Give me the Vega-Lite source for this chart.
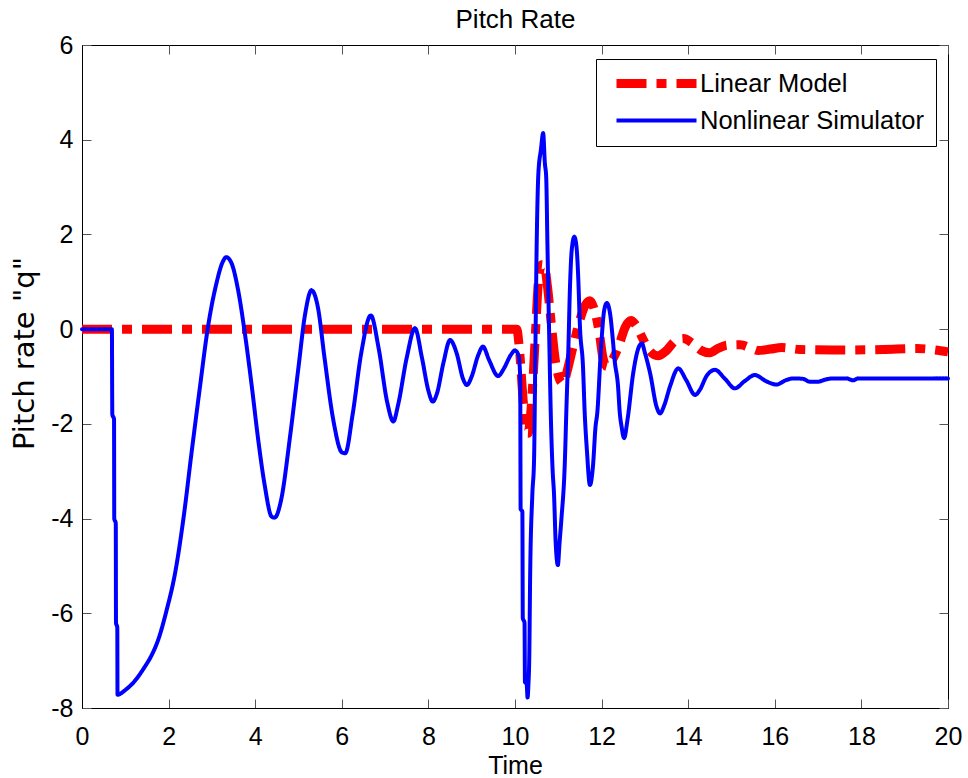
{
  "$schema": "https://vega.github.io/schema/vega-lite/v6.json",
  "width": 866,
  "height": 663,
  "autosize": {"type": "none"},
  "padding": {"left": 82, "top": 45, "right": 20, "bottom": 70},
  "background": "white",
  "config": {
    "view": {"stroke": "black", "strokeWidth": 1},
    "font": "Liberation Sans",
    "axis": {"grid": false}
  },
  "datasets": {
    "lin": [
      {"t":0,"q":0},{"t":10.04,"q":0},{"t":10.1,"q":-0.4},{"t":10.18,"q":-1.4},{"t":10.25,"q":-2.1},{"t":10.3,"q":-2.2},{"t":10.36,"q":-1.8},{"t":10.42,"q":-1.0},{"t":10.48,"q":0.05},{"t":10.55,"q":1.1},{"t":10.62,"q":1.36},{"t":10.68,"q":1.33},{"t":10.75,"q":0.9},{"t":10.83,"q":0.19},{"t":10.93,"q":-0.65},{"t":11.05,"q":-1.1},{"t":11.12,"q":-1.15},{"t":11.2,"q":-0.9},{"t":11.32,"q":-0.45},{"t":11.5,"q":0.2},{"t":11.62,"q":0.5},{"t":11.73,"q":0.6},{"t":11.85,"q":0.35},{"t":11.95,"q":-0.1},{"t":12.03,"q":-0.6},{"t":12.12,"q":-0.79},{"t":12.25,"q":-0.65},{"t":12.39,"q":-0.37},{"t":12.55,"q":0.05},{"t":12.68,"q":0.18},{"t":12.78,"q":0.1},{"t":12.95,"q":-0.2},{"t":13.1,"q":-0.45},{"t":13.3,"q":-0.56},{"t":13.5,"q":-0.45},{"t":13.7,"q":-0.25},{"t":13.89,"q":-0.2},{"t":14.1,"q":-0.3},{"t":14.3,"q":-0.45},{"t":14.5,"q":-0.5},{"t":14.7,"q":-0.4},{"t":14.9,"q":-0.34},{"t":15.2,"q":-0.33},{"t":15.45,"q":-0.4},{"t":15.62,"q":-0.45},{"t":15.9,"q":-0.42},{"t":16.16,"q":-0.39},{"t":16.58,"q":-0.43},{"t":17.5,"q":-0.44},{"t":18.5,"q":-0.43},{"t":19.28,"q":-0.41},{"t":20,"q":-0.48}
    ],
    "non": [
      {"t":0,"q":0},{"t":0.69,"q":0},{"t":0.7,"q":-1.8},{"t":0.74,"q":-1.9},{"t":0.745,"q":-4.0},{"t":0.78,"q":-4.1},{"t":0.785,"q":-6.2},{"t":0.815,"q":-6.3},{"t":0.82,"q":-7.72},
      {"t":1.0,"q":-7.62},{"t":1.2,"q":-7.45},{"t":1.45,"q":-7.13},{"t":1.6,"q":-6.9},{"t":1.76,"q":-6.56},{"t":1.95,"q":-5.95},{"t":2.15,"q":-5.15},{"t":2.35,"q":-3.95},{"t":2.53,"q":-2.61},{"t":2.72,"q":-1.25},{"t":2.91,"q":0.05},{"t":3.1,"q":0.95},{"t":3.25,"q":1.42},{"t":3.33,"q":1.52},{"t":3.45,"q":1.4},{"t":3.6,"q":0.85},{"t":3.76,"q":-0.08},{"t":3.92,"q":-1.2},{"t":4.07,"q":-2.34},{"t":4.22,"q":-3.3},{"t":4.38,"q":-3.96},{"t":4.45,"q":-3.98},
      {"t":4.6,"q":-3.6},{"t":4.8,"q":-2.3},{"t":5.0,"q":-0.8},{"t":5.15,"q":0.3},{"t":5.3,"q":0.82},{"t":5.45,"q":0.45},{"t":5.6,"q":-0.6},{"t":5.8,"q":-1.9},{"t":6.0,"q":-2.6},{"t":6.08,"q":-2.62},{"t":6.25,"q":-1.8},{"t":6.45,"q":-0.5},{"t":6.67,"q":0.29},{"t":6.85,"q":-0.4},{"t":7.05,"q":-1.55},{"t":7.19,"q":-1.95},{"t":7.3,"q":-1.6},{"t":7.5,"q":-0.6},{"t":7.69,"q":0.02},{"t":7.85,"q":-0.6},{"t":8.0,"q":-1.3},{"t":8.1,"q":-1.53},{"t":8.2,"q":-1.35},{"t":8.35,"q":-0.7},{"t":8.5,"q":-0.23},{"t":8.65,"q":-0.5},{"t":8.8,"q":-1.05},{"t":8.89,"q":-1.18},{"t":9.0,"q":-1.0},{"t":9.15,"q":-0.55},{"t":9.26,"q":-0.37},{"t":9.4,"q":-0.65},{"t":9.61,"q":-0.99},{"t":9.75,"q":-0.82},{"t":9.9,"q":-0.55},{"t":10.0,"q":-0.45},{"t":10.08,"q":-0.55},{"t":10.12,"q":-1.0},
      {"t":10.13,"q":-3.8},{"t":10.17,"q":-3.85},{"t":10.18,"q":-6.1},{"t":10.22,"q":-6.2},{"t":10.23,"q":-7.45},{"t":10.27,"q":-7.5},{"t":10.29,"q":-7.78},{"t":10.31,"q":-7.5},{"t":10.33,"q":-6.9},{"t":10.35,"q":-5.2},{"t":10.4,"q":-3.5},{"t":10.44,"q":-2.76},{"t":10.47,"q":-0.5},{"t":10.5,"q":1.74},{"t":10.54,"q":3.29},{"t":10.6,"q":3.8},{"t":10.65,"q":4.14},{"t":10.69,"q":3.5},{"t":10.72,"q":3.22},{"t":10.75,"q":1.74},{"t":10.79,"q":-0.16},{"t":10.83,"q":-1.92},{"t":10.87,"q":-3.0},{"t":10.9,"q":-3.46},{"t":10.94,"q":-4.52},{"t":10.99,"q":-4.98},{"t":11.03,"q":-4.5},{"t":11.07,"q":-4.03},{"t":11.15,"q":-2.83},{"t":11.19,"q":-1.6},{"t":11.23,"q":-0.5},{"t":11.27,"q":0.9},{"t":11.31,"q":1.67},{"t":11.37,"q":1.95},{"t":11.42,"q":1.74},{"t":11.46,"q":1.1},{"t":11.5,"q":0.05},{"t":11.57,"q":-0.79},{"t":11.61,"q":-1.77},{"t":11.66,"q":-2.55},{"t":11.73,"q":-3.29},{"t":11.8,"q":-2.9},{"t":11.86,"q":-2.06},{"t":11.9,"q":-1.77},{"t":11.98,"q":-0.5},{"t":12.06,"q":0.4},{"t":12.12,"q":0.55},{"t":12.2,"q":0.3},{"t":12.26,"q":-0.23},{"t":12.3,"q":-0.65},{"t":12.38,"q":-1.21},{"t":12.42,"q":-1.77},{"t":12.46,"q":-2.05},{"t":12.52,"q":-2.3},{"t":12.6,"q":-1.9},{"t":12.73,"q":-0.93},{"t":12.85,"q":-0.4},{"t":12.93,"q":-0.3},{"t":13.0,"q":-0.5},{"t":13.12,"q":-0.93},{"t":13.27,"q":-1.64},{"t":13.35,"q":-1.78},{"t":13.45,"q":-1.6},{"t":13.58,"q":-1.21},{"t":13.77,"q":-0.83},{"t":13.95,"q":-1.07},{"t":14.16,"q":-1.39},{"t":14.27,"q":-1.28},{"t":14.43,"q":-0.98},{"t":14.62,"q":-0.86},{"t":14.85,"q":-1.05},{"t":15.08,"q":-1.25},{"t":15.3,"q":-1.1},{"t":15.54,"q":-0.97},{"t":15.8,"q":-1.1},{"t":16.04,"q":-1.17},{"t":16.25,"q":-1.08},{"t":16.43,"q":-1.04},{"t":16.65,"q":-1.05},{"t":16.81,"q":-1.11},{"t":17.0,"q":-1.11},{"t":17.15,"q":-1.07},{"t":17.34,"q":-1.04},{"t":17.65,"q":-1.04},{"t":17.81,"q":-1.08},{"t":17.93,"q":-1.04},{"t":20,"q":-1.04}
    ]
  },
  "layer": [
    {
      "data": {"name": "lin"},
      "transform": [{"calculate": "'Linear Model'", "as": "series"}],
      "mark": {"type": "line", "strokeCap": "butt", "strokeJoin": "round", "interpolate": "monotone"},
      "encoding": {
        "x": {"field": "t", "type": "quantitative", "scale": {"domain": [0, 20], "nice": false, "zero": false},
          "axis": {"orient": "bottom", "values": [0,2,4,6,8,10,12,14,16,18,20], "labelExpr": "'' + datum.value", "labelFontSize": 25, "labelFont": "Liberation Sans", "labelColor": "black", "labelFlush": false, "labelOverlap": false, "labelBound": false, "labelBaseline": "alphabetic", "tickSize": -9, "tickColor": "#555", "tickWidth": 1, "labelPadding": 45, "domain": true, "domainColor": "black", "domainWidth": 1, "grid": false,
            "title": "Time", "titleFont": "Liberation Sans", "titleFontSize": 25, "titleFontWeight": "normal", "titleColor": "black", "titleX": 433, "titleY": 65, "titleBaseline": "alphabetic", "titleAlign": "center", "titleAnchor": null}},
        "y": {"field": "q", "type": "quantitative", "scale": {"domain": [-8, 6], "nice": false, "zero": false},
          "axis": {"orient": "left", "values": [-8,-6,-4,-2,0,2,4,6], "labelExpr": "'' + datum.value", "labelFontSize": 25, "labelFont": "Liberation Sans", "labelColor": "black", "labelFlush": false, "labelOverlap": false, "labelBound": false, "tickSize": -9, "tickColor": "#555", "tickWidth": 1, "labelPadding": 18, "domain": true, "domainColor": "black", "domainWidth": 1, "grid": false,
            "title": "Pitch rate \"q\"", "titleFont": "DejaVu Sans", "titleFontSize": 29, "titleFontWeight": "normal", "titleColor": "black", "titleX": -49, "titleY": 308, "titleBaseline": "alphabetic", "titleAlign": "center", "titleAngle": 270, "titleAnchor": null}},
        "color": {"field": "series", "type": "nominal", "scale": {"domain": ["Linear Model", "Nonlinear Simulator"], "range": ["#ff0000", "#0000ff"]},
          "legend": {"title": null, "orient": "none", "legendX": 514, "legendY": 14, "strokeColor": "black", "fillColor": "white", "padding": 12, "symbolType": "stroke", "symbolSize": 6400, "clipHeight": 25, "rowPadding": 11, "labelFontSize": 25.5, "labelFont": "Liberation Sans", "labelColor": "black", "labelOffset": -1, "symbolOffset": 4, "labelLimit": 400}},
        "strokeDash": {"field": "series", "type": "nominal", "scale": {"domain": ["Linear Model", "Nonlinear Simulator"], "range": [[30, 10, 10, 10], [1, 0]]},
          "legend": {"title": null, "orient": "none", "legendX": 514, "legendY": 14, "strokeColor": "black", "fillColor": "white", "padding": 12, "symbolType": "stroke", "symbolSize": 6400, "clipHeight": 25, "rowPadding": 11, "labelFontSize": 25.5, "labelFont": "Liberation Sans", "labelColor": "black", "labelOffset": -1, "symbolOffset": 4, "labelLimit": 400}},
        "strokeWidth": {"field": "series", "type": "nominal", "scale": {"domain": ["Linear Model", "Nonlinear Simulator"], "range": [9, 4]},
          "legend": {"title": null, "orient": "none", "legendX": 514, "legendY": 14, "strokeColor": "black", "fillColor": "white", "padding": 12, "symbolType": "stroke", "symbolSize": 6400, "clipHeight": 25, "rowPadding": 11, "labelFontSize": 25.5, "labelFont": "Liberation Sans", "labelColor": "black", "labelOffset": -1, "symbolOffset": 4, "labelLimit": 400}}
      }
    },
    {
      "data": {"name": "non"},
      "transform": [{"calculate": "'Nonlinear Simulator'", "as": "series"}],
      "mark": {"type": "line", "strokeCap": "round", "strokeJoin": "round", "interpolate": "monotone"},
      "encoding": {
        "x": {"field": "t", "type": "quantitative", "axis": null},
        "y": {"field": "q", "type": "quantitative", "axis": null},
        "color": {"field": "series", "type": "nominal"},
        "strokeDash": {"field": "series", "type": "nominal"},
        "strokeWidth": {"field": "series", "type": "nominal"}
      }
    },
    {
      "data": {"name": "lin"},
      "mark": {"type": "line", "opacity": 0},
      "encoding": {
        "x": {"field": "t", "type": "quantitative", "axis": {"orient": "top", "values": [0,2,4,6,8,10,12,14,16,18,20], "labels": false, "domain": false, "tickSize": -9, "tickColor": "#555", "tickWidth": 1, "grid": false,
          "title": "Pitch Rate", "titleFont": "Liberation Sans", "titleFontSize": 26, "titleFontWeight": "normal", "titleColor": "black", "titleX": 433, "titleY": -18, "titleBaseline": "alphabetic", "titleAlign": "center", "titleAnchor": null}},
        "y": {"field": "q", "type": "quantitative", "axis": {"orient": "right", "values": [-8,-6,-4,-2,0,2,4,6], "labels": false, "domain": false, "tickSize": -9, "tickColor": "#555", "tickWidth": 1, "title": null, "grid": false}}
      }
    }
  ],
  "resolve": {"axis": {"x": "independent", "y": "independent"}}
}
